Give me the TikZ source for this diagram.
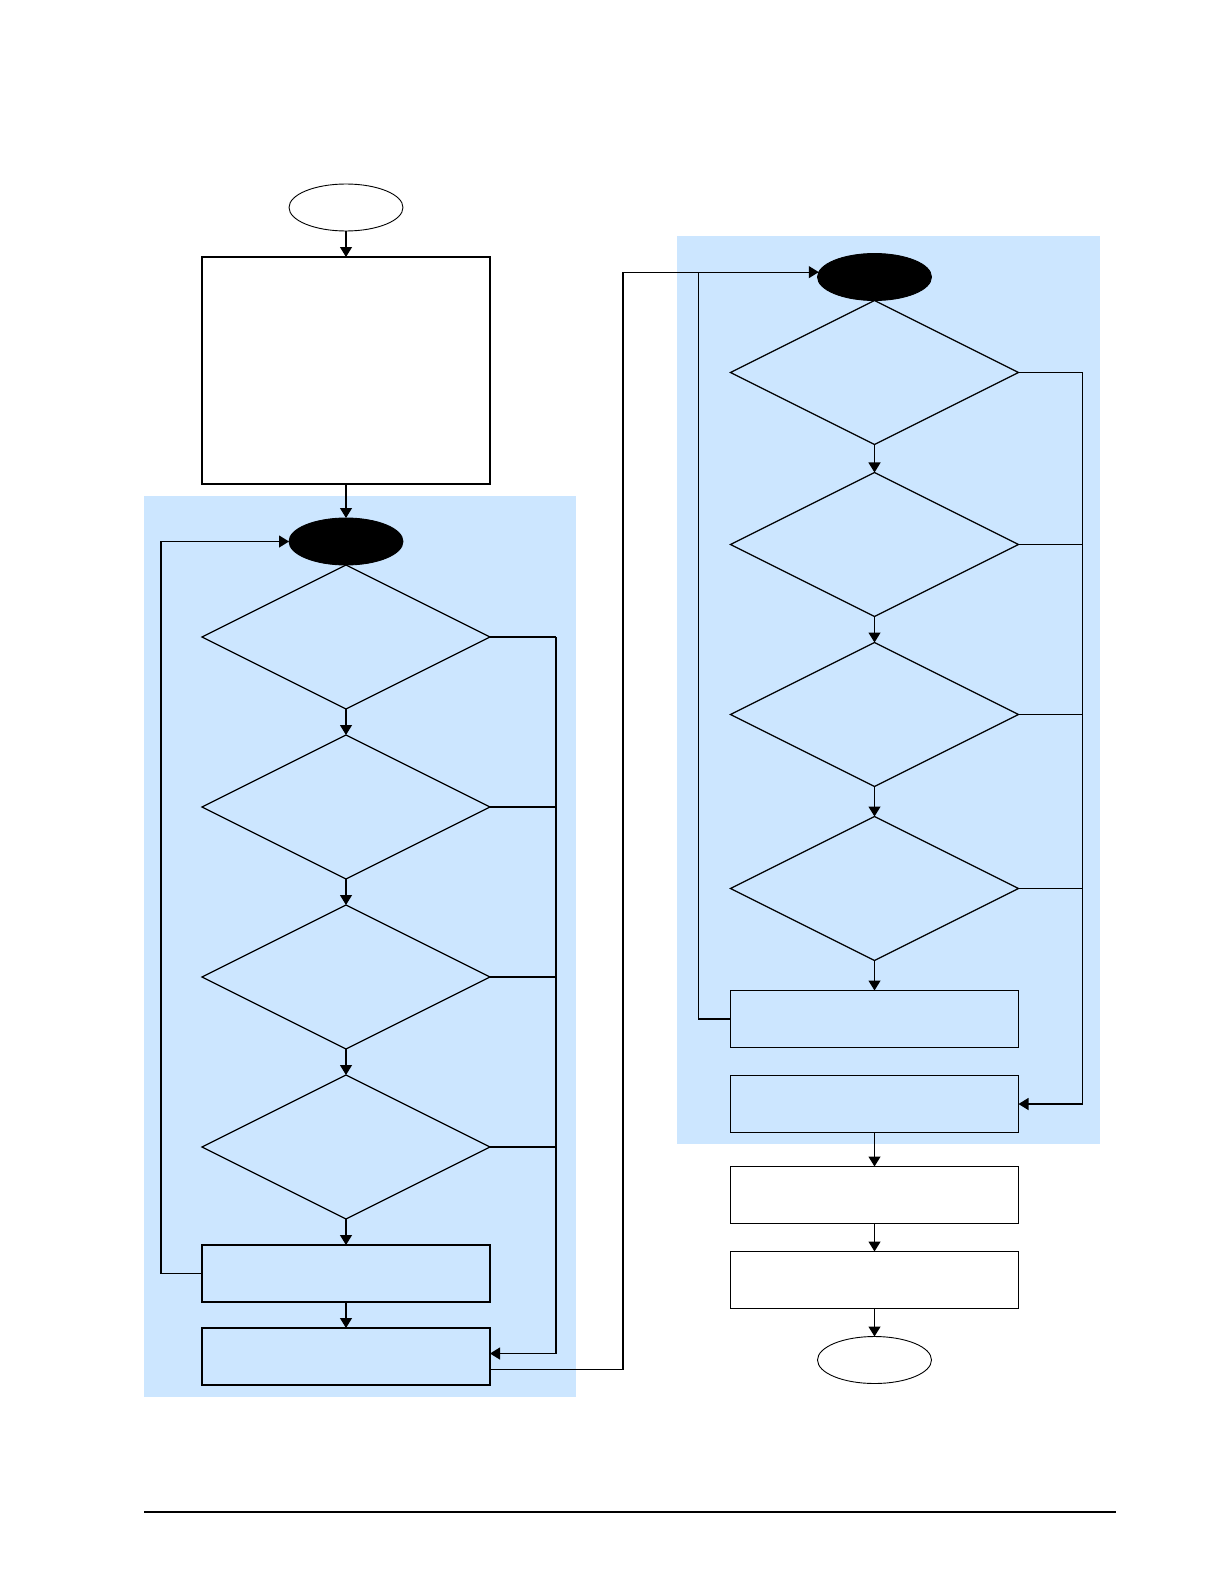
\documentclass[tikz,border=0pt]{standalone}
\usepackage{tikz}
\usetikzlibrary{shapes.geometric, positioning, arrows.meta}
\definecolor{panelblue}{RGB}{204,230,255}

\begin{document}
\begin{tikzpicture}[
    x=0.5pt, y=-0.5pt,
    line width=0.6pt,
    node distance=13pt and 13pt,
    every node/.style={outer sep=0pt},
    box/.style={rectangle, draw, minimum width=144pt, minimum height=28.5pt, inner sep=0pt},
    bigbox/.style={box, fill=white, minimum height=113.5pt},
    term/.style={ellipse, draw, line width=0.45pt, minimum width=57pt, minimum height=23.5pt, inner sep=0pt},
    loophead/.style={term, fill=black},
    decision/.style={diamond, draw, aspect=2, minimum width=144pt, minimum height=72pt, inner sep=0pt},
    arrow/.style={-{Triangle[length=5pt, width=6pt]}}
]
    \useasboundingbox (0,0) rectangle (1224,1584);

    % --- Shaded loop panels ---
    \fill[panelblue] (144,496) rectangle (576,1397);
    \fill[panelblue] (677,236) rectangle (1100,1144);

    % --- Left column ---
    \node[term] (start) at (346,207.5) {};
    \node[bigbox] (init) [below=of start] {};
    \node[loophead] (loopA) [below=17pt of init] {};
    \node[decision] (a1) [below=0pt of loopA] {};
    \node[decision] (a2) [below=of a1] {};
    \node[decision] (a3) [below=of a2] {};
    \node[decision] (a4) [below=of a3] {};
    \node[box] (a5) [below=of a4] {};
    \node[box] (a6) [below=of a5] {};

    % --- Right column ---
    \node[loophead] (loopB) at (874.5,277) {};
    \node[decision] (b1) [below=0pt of loopB] {};
    \node[decision] (b2) [below=14pt of b1] {};
    \node[decision] (b3) [below=of b2] {};
    \node[decision] (b4) [below=15pt of b3] {};
    \node[box] (b5) [below=15pt of b4] {};
    \node[box] (b6) [below=14pt of b5] {};
    \node[box] (b7) [below=17pt of b6] {};
    \node[box] (b8) [below=14pt of b7] {};
    \node[term] (stop) [below=14pt of b8] {};

    % --- Rails for the exit branches ---
    \coordinate [right=33pt of a1.east] (railA);
    \coordinate [right=32pt of b1.east] (railB);

    % --- Left column connections ---
    \draw[arrow] (start) -- (init);
    \draw[arrow] (init) -- (loopA);
    \draw[arrow] (a1) -- (a2);
    \draw[arrow] (a2) -- (a3);
    \draw[arrow] (a3) -- (a4);
    \draw[arrow] (a4) -- (a5);
    \draw[arrow] (a5) -- (a6);
    \draw[arrow] (a5.west) -- ++(-20.5pt,0pt) |- (loopA.west);

    \draw (a1.east) -- (railA);
    \draw (a2.east) -- (a2.east -| railA);
    \draw (a3.east) -- (a3.east -| railA);
    \draw (a4.east) -- (a4.east -| railA);
    \draw[arrow] (railA) |- ([yshift=1.5pt]a6.east);

    % --- Hand-over to the right loop ---
    \draw[arrow] ([yshift=-6.5pt]a6.east) -- ++(66.5pt,0pt) |- (loopB.175);
    \draw (b5.west) -- ++(-16pt,0pt) |- (loopB.175);

    % --- Right column connections ---
    \draw[arrow] (b1) -- (b2);
    \draw[arrow] (b2) -- (b3);
    \draw[arrow] (b3) -- (b4);
    \draw[arrow] (b4) -- (b5);
    \draw[arrow] (b6) -- (b7);
    \draw[arrow] (b7) -- (b8);
    \draw[arrow] (b8) -- (stop);

    \draw (b1.east) -- (railB);
    \draw (b2.east) -- (b2.east -| railB);
    \draw (b3.east) -- (b3.east -| railB);
    \draw (b4.east) -- (b4.east -| railB);
    \draw[arrow] (railB) |- (b6.east);

    % --- Footer rule ---
    \draw (144,1512) -- (1116,1512);
\end{tikzpicture}
\end{document}
